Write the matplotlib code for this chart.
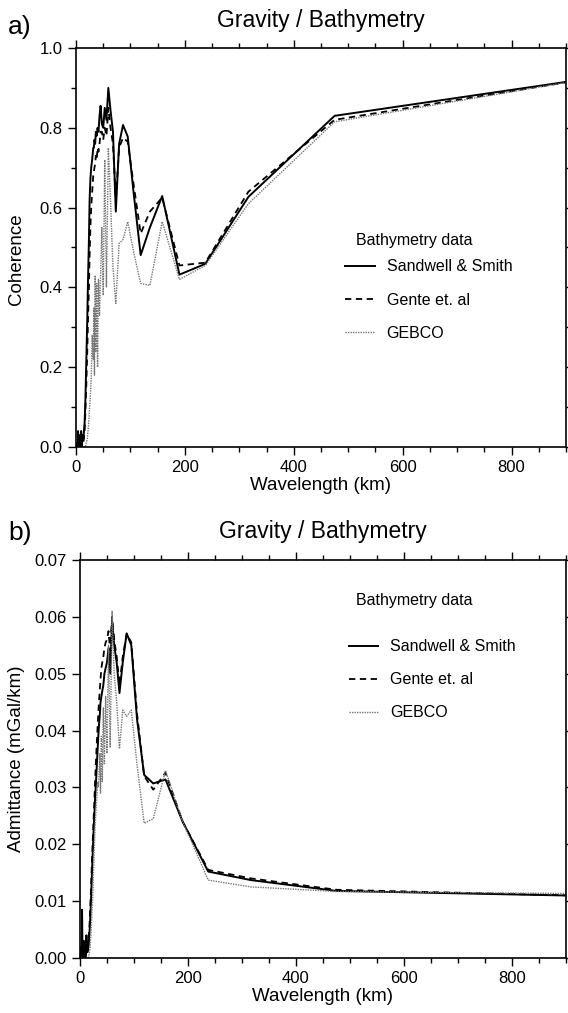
import matplotlib
matplotlib.use("Agg")
import matplotlib.pyplot as plt
from matplotlib.ticker import MultipleLocator, FormatStrFormatter

plt.rcParams['font.family'] = ['Liberation Sans', 'DejaVu Sans']

# Wavelengths of the spectral estimates (km)
wavelength_km = [950, 475, 316.7, 237.5, 190, 158.3, 135.7, 118.8, 105.6, 95,
                 86.4, 79.2, 73.1, 67.9, 63.3, 59.4, 55.9, 52.8, 50, 47.5,
                 45.2, 43.2, 41.3, 39.6, 38, 36.5, 35.2, 33.9, 32.8, 31.7,
                 29.7, 27.9, 26.4, 25, 23.75, 22.1, 20.7, 19, 17.3, 15.8,
                 13.6, 11.9, 10.6, 9.5, 8.6, 7.9, 7.3, 6.3, 5.6, 4.75,
                 3.8, 3.2, 2.4, 1.9]

series_names = ["Sandwell & Smith", "Gente et. al", "GEBCO"]
legend_title = "Bathymetry data"

coh_sandwell = [0.925, 0.83, 0.627, 0.459, 0.432, 0.629, 0.55, 0.481, 0.64, 0.778,
                0.807, 0.76, 0.59, 0.79, 0.845, 0.90, 0.82, 0.85, 0.80, 0.81,
                0.855, 0.83, 0.79, 0.80, 0.78, 0.79, 0.76, 0.77, 0.75, 0.75,
                0.72, 0.70, 0.67, 0.62, 0.52, 0.42, 0.32, 0.22, 0.12, 0.06,
                0.02, 0.03, 0.0, 0.04, 0.01, 0.0, 0.03, 0.0, 0.02, 0.0,
                0.04, 0.0, 0.01, 0.0]
coh_gente = [0.925, 0.82, 0.64, 0.462, 0.455, 0.625, 0.59, 0.535, 0.66, 0.765,
             0.775, 0.75, 0.62, 0.76, 0.80, 0.85, 0.78, 0.80, 0.77, 0.79,
             0.79, 0.76, 0.74, 0.75, 0.72, 0.73, 0.71, 0.70, 0.69, 0.68,
             0.64, 0.60, 0.55, 0.48, 0.40, 0.32, 0.24, 0.16, 0.09, 0.04,
             0.01, 0.02, 0.0, 0.03, 0.0, 0.01, 0.02, 0.0, 0.01, 0.0,
             0.03, 0.0, 0.0, 0.0]
coh_gebco = [0.925, 0.815, 0.61, 0.455, 0.42, 0.565, 0.405, 0.41, 0.49, 0.565,
             0.52, 0.51, 0.36, 0.45, 0.62, 0.75, 0.40, 0.72, 0.38, 0.55,
             0.43, 0.33, 0.42, 0.20, 0.41, 0.24, 0.43, 0.18, 0.35, 0.22,
             0.28, 0.17, 0.13, 0.10, 0.07, 0.04, 0.02, 0.01, 0.0, 0.0,
             0.0, 0.0, 0.0, 0.0, 0.0, 0.0, 0.0, 0.0, 0.0, 0.0,
             0.0, 0.0, 0.0, 0.0]

adm_sandwell = [0.0109, 0.0118, 0.0137, 0.0152, 0.024, 0.0314, 0.0307, 0.0322, 0.042, 0.055,
                0.0571, 0.052, 0.0466, 0.052, 0.055, 0.0594, 0.050, 0.0545, 0.052, 0.051,
                0.050, 0.048, 0.047, 0.046, 0.045, 0.0425, 0.041, 0.039, 0.037, 0.035,
                0.031, 0.028, 0.025, 0.022, 0.019, 0.015, 0.011, 0.007, 0.004, 0.002,
                0.001, 0.004, 0.0005, 0.002, 0.0, 0.001, 0.003, 0.0, 0.001, 0.0,
                0.0085, 0.0, 0.002, 0.0]
adm_gente = [0.0109, 0.0120, 0.0140, 0.0155, 0.024, 0.0326, 0.0296, 0.032, 0.043, 0.0555,
             0.057, 0.053, 0.048, 0.053, 0.056, 0.060, 0.054, 0.0575, 0.056, 0.0555,
             0.0545, 0.053, 0.052, 0.051, 0.049, 0.047, 0.045, 0.043, 0.041, 0.039,
             0.035, 0.031, 0.027, 0.024, 0.021, 0.017, 0.013, 0.009, 0.005, 0.003,
             0.001, 0.002, 0.0, 0.001, 0.0, 0.002, 0.0, 0.001, 0.0, 0.0,
             0.003, 0.0, 0.0, 0.0]
adm_gebco = [0.0113, 0.0117, 0.0125, 0.0137, 0.024, 0.033, 0.0245, 0.0237, 0.034, 0.0436,
             0.0425, 0.0436, 0.0368, 0.045, 0.050, 0.061, 0.037, 0.055, 0.036, 0.046,
             0.034, 0.044, 0.031, 0.039, 0.029, 0.036, 0.032, 0.030, 0.031, 0.029,
             0.026, 0.023, 0.019, 0.015, 0.011, 0.008, 0.005, 0.002, 0.001, 0.0,
             0.0, 0.0, 0.0, 0.0, 0.0, 0.0, 0.0, 0.0, 0.0, 0.0,
             0.0, 0.0, 0.0, 0.0]

styles = [dict(color='black', lw=1.4, ls='-'),
          dict(color='black', lw=1.3, ls=(0, (3.5, 2.5))),
          dict(color='#777777', lw=1.0, ls=(0, (1, 0.8)))]

W, H = 568, 1013
fig = plt.figure(figsize=(W / 100, H / 100), dpi=100)


def px_axes(l, t, r, b):
    return fig.add_axes([l / W, 1 - b / H, (r - l) / W, (b - t) / H])


def style_axes(ax):
    for s in ax.spines.values():
        s.set_linewidth(1.2)
    ax.tick_params(which='both', direction='out', top=True, right=True,
                   labelsize=12, width=1.0)
    ax.tick_params(which='major', length=6)
    ax.tick_params(which='minor', length=3.5)
    ax.set_xlim(0, 900)
    ax.xaxis.set_major_locator(MultipleLocator(200))
    ax.xaxis.set_minor_locator(MultipleLocator(50))
    ax.set_xlabel("Wavelength (km)", fontsize=13.5, labelpad=1)


def add_legend(ax, anchor, title_xy):
    leg = ax.legend(loc='upper left', bbox_to_anchor=anchor, frameon=False,
                    fontsize=11.5, handlelength=1.85, handletextpad=0.75,
                    labelspacing=1.13)
    fig.text(title_xy[0] / W, 1 - title_xy[1] / H, legend_title,
             fontsize=11.5, ha='left', va='center')
    return leg


# Panel a
ax1 = px_axes(76, 48, 566, 447)
for vals, name, st in zip([coh_sandwell, coh_gente, coh_gebco], series_names, styles):
    ax1.plot(wavelength_km, vals, label=name, **st)
style_axes(ax1)
ax1.set_ylim(0, 1.0)
ax1.yaxis.set_major_locator(MultipleLocator(0.2))
ax1.yaxis.set_minor_locator(MultipleLocator(0.1))
ax1.yaxis.set_major_formatter(FormatStrFormatter('%.1f'))
ax1.set_ylabel("Coherence", fontsize=13.5)
ax1.yaxis.set_label_coords(-0.104, 0.47)
ax1.set_title("Gravity / Bathymetry", fontsize=16.5, pad=15)
fig.text(8 / W, 1 - 34 / H, "a)", fontsize=19)
add_legend(ax1, (0.52, 0.506), (356, 240))

# Panel b
ax2 = px_axes(80, 560, 566, 958)
for vals, name, st in zip([adm_sandwell, adm_gente, adm_gebco], series_names, styles):
    ax2.plot(wavelength_km, vals, label=name, **st)
style_axes(ax2)
ax2.set_ylim(0, 0.07)
ax2.yaxis.set_major_locator(MultipleLocator(0.01))
ax2.yaxis.set_major_formatter(FormatStrFormatter('%.2f'))
ax2.set_ylabel("Admittance (mGal/km)", fontsize=13.5)
ax2.yaxis.set_label_coords(-0.113, 0.5)
ax2.set_title("Gravity / Bathymetry", fontsize=16.5, pad=16)
fig.text(8 / W, 1 - 540 / H, "b)", fontsize=19)
add_legend(ax2, (0.523, 0.837), (356, 600))

fig.savefig("out.png", dpi=100, facecolor='white')
